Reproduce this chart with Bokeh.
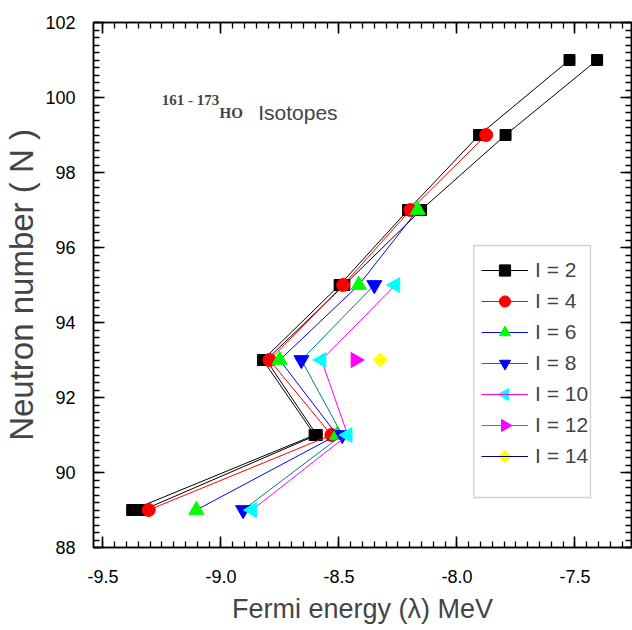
import numpy as np
from bokeh.plotting import figure
from bokeh.models import (Range1d, LinearAxis, SingleIntervalTicker, PrintfTickFormatter,
                          Legend, LegendItem, Label, BoxAnnotation, CustomLabelingPolicy)
from bokeh.embed import file_html
from bokeh.resources import INLINE

# ---- data ----
N_l2 = [89, 91, 93, 95, 97, 99, 101]
E_l2 = [-9.376, -8.603, -8.822, -8.497, -8.207, -7.906, -7.523]

N_l2b = [89, 91, 93, 95, 97, 99, 101]
E_l2b = [-9.330, -8.594, -8.808, -8.477, -8.152, -7.794, -7.406]

N_l4 = [89, 91, 93, 95, 97, 99]
E_l4 = [-9.306, -8.532, -8.794, -8.482, -8.197, -7.876]

N_l6 = [89, 91, 93, 95, 97]
E_l6 = [-9.104, -8.508, -8.751, -8.416, -8.166]

N_l8 = [89, 91, 93, 95]
E_l8 = [-8.906, -8.486, -8.659, -8.350]

N_l10 = [89, 91, 93, 95]
E_l10 = [-8.868, -8.463, -8.574, -8.261]

N_l12 = [93]
E_l12 = [-8.430]

N_l14 = [93]
E_l14 = [-8.324]

legend_labels = ["I = 2", "I = 4", "I = 6", "I = 8", "I = 10", "I = 12", "I = 14"]
x_ticks_major = 0.5
y_ticks_major = 2

# ---- layout constants (pixels) ----
W, H = 632, 630
FL, FR, FT, FB = 93, 631, 22, 547          # frame edges in page pixels
X0, Y0, Y1 = -9.540, 88, 102
PX_PER_X = 236.0
X1 = X0 + (FR - FL) / PX_PER_X
PX_PER_Y = (FB - FT) / (Y1 - Y0)

def px_to_x(px):
    return X0 + (px - FL) / PX_PER_X

def py_to_y(py):
    return Y1 - (py - FT) / PX_PER_Y

p = figure(width=W, height=H, output_backend="svg", toolbar_location=None,
           x_range=Range1d(X0, X1), y_range=Range1d(Y0, Y1),
           min_border_left=FL, min_border_right=W - FR, min_border_top=FT,
           min_border_bottom=H - FB)
p.xgrid.visible = False
p.ygrid.visible = False
p.outline_line_color = "black"
p.outline_line_width = 1.5

def style_axis(ax, ticker, show_labels):
    ax.ticker = ticker
    ax.axis_line_width = 1.5
    ax.major_tick_in = 11
    ax.major_tick_out = 0
    ax.minor_tick_in = 6
    ax.minor_tick_out = 0
    ax.major_tick_line_width = 1.6
    ax.minor_tick_line_width = 1.3
    ax.major_tick_line_color = "black"
    ax.minor_tick_line_color = "black"
    if show_labels:
        ax.major_label_text_font = "Liberation Sans"
        ax.major_label_text_font_size = "18px"
        ax.major_label_text_color = "black"
    else:
        ax.major_label_policy = CustomLabelingPolicy(code="return []")
        ax.major_label_text_font_size = "0px"
        ax.major_label_standoff = 0

xa = p.xaxis[0]
style_axis(xa, SingleIntervalTicker(interval=x_ticks_major, num_minor_ticks=10), True)
xa.formatter = PrintfTickFormatter(format="%.1f")
xa.major_label_standoff = 22
xa.axis_label = "Fermi energy (λ) MeV"
xa.axis_label_text_font = "Liberation Sans"
xa.axis_label_text_font_size = "27px"
xa.axis_label_text_font_style = "normal"
xa.axis_label_standoff = 8

ya = p.yaxis[0]
style_axis(ya, SingleIntervalTicker(interval=y_ticks_major, num_minor_ticks=10), True)
ya.formatter = PrintfTickFormatter(format="%d")
ya.major_label_standoff = 18
ya.axis_label = "Neutron number ( N )"
ya.axis_label_text_font = "Liberation Sans"
ya.axis_label_text_font_size = "33px"
ya.axis_label_text_font_style = "normal"
ya.axis_label_standoff = 2

top = LinearAxis()
style_axis(top, SingleIntervalTicker(interval=x_ticks_major, num_minor_ticks=10), False)
p.add_layout(top, "above")
right = LinearAxis()
style_axis(right, SingleIntervalTicker(interval=y_ticks_major, num_minor_ticks=10), False)
p.add_layout(right, "right")

# N, E, line colour, marker, marker colour, angle, size, legend label, legend symbol size
series = [
    (N_l2b, E_l2b, "black", "square", "black", 0.0, 11, None, 0),
    (N_l2, E_l2, "black", "square", "black", 0.0, 11, legend_labels[0], 0),
    (N_l4, E_l4, "red", "circle", "red", 0.0, 13, legend_labels[1], 0),
    (N_l6, E_l6, "blue", "triangle", "#00FF00", 0.0, 15, legend_labels[2], 0),
    (N_l8, E_l8, "#008080", "inverted_triangle", "blue", 0.0, 15, legend_labels[3], 0),
    (N_l10, E_l10, "#FF00FF", "triangle", "cyan", np.pi / 2, 15, legend_labels[4], 12),
    (N_l12, E_l12, "#808000", "triangle", "#FF00FF", -np.pi / 2, 15, legend_labels[5], 12),
    (N_l14, E_l14, "#000080", "square", "yellow", np.pi / 4, 10, legend_labels[6], 9),
]

# legend geometry
LEG_PAD, GLYPH_W, ROW_H, ROW_S = 5, 47, 28, 3
LEG_X_OFF, LEG_Y_OFF = 383, 72
n_items = len(legend_labels)
leg_bottom_py = FB - LEG_Y_OFF
glyph_cx_py = FL + LEG_X_OFF + LEG_PAD + GLYPH_W / 2

items = []
k = 0
for (Ns, Es, lc, mk, mc, ang, sz, lab, lsz) in series:
    lr = p.line(Es, Ns, line_color=lc, line_width=1)
    sr = p.scatter(Es, Ns, marker=mk, size=sz, fill_color=mc, line_color=mc, angle=ang)
    if lab is None:
        continue
    if ang == 0.0:
        items.append(LegendItem(label=lab, renderers=[lr, sr]))
    else:
        # legend glyphs are drawn without rotation, so put the rotated symbol on top
        items.append(LegendItem(label=lab, renderers=[lr]))
        cy_py = leg_bottom_py - LEG_PAD - (n_items - 1 - k) * (ROW_H + ROW_S) - ROW_H / 2
        p.scatter([px_to_x(glyph_cx_py)], [py_to_y(cy_py)], marker=mk,
                  size=lsz, fill_color=mc, line_color=mc, angle=ang)
    k += 1

box = BoxAnnotation(left=px_to_x(473.3), right=px_to_x(590), bottom=py_to_y(497),
                    top=py_to_y(245), fill_alpha=0, line_color="#666666", line_width=1.3)
p.add_layout(box)

legend = Legend(items=items, location=(LEG_X_OFF, LEG_Y_OFF), padding=LEG_PAD, margin=0,
                spacing=ROW_S, glyph_width=GLYPH_W, glyph_height=ROW_H, label_height=21,
                label_standoff=7, label_text_font="Liberation Sans",
                label_text_font_size="21px", label_text_baseline="middle",
                border_line_alpha=0, background_fill_alpha=0)
p.add_layout(legend)

p.add_layout(Label(x=px_to_x(161.3), y=py_to_y(99), text="161 - 173",
                   text_font="Liberation Serif", text_font_style="bold",
                   text_font_size="15px", text_baseline="alphabetic"))
p.add_layout(Label(x=px_to_x(219), y=py_to_y(112), text="HO", text_font="Liberation Serif",
                   text_font_style="bold", text_font_size="15px", text_baseline="alphabetic"))
p.add_layout(Label(x=px_to_x(257.7), y=py_to_y(112), text="Isotopes",
                   text_font="Liberation Sans", text_font_size="21px",
                   text_baseline="alphabetic"))

open("out.html", "w").write(file_html(p, INLINE))
